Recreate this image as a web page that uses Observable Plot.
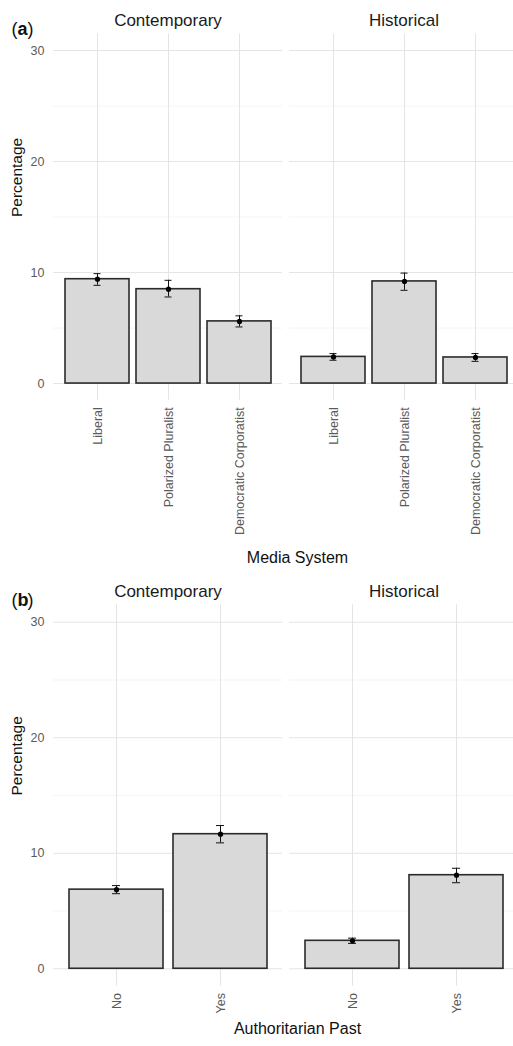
<!DOCTYPE html>
<html><head><meta charset="utf-8">
<script src="https://cdn.jsdelivr.net/npm/d3@7"></script>
<script src="https://cdn.jsdelivr.net/npm/@observablehq/plot@0.6"></script>
<style>
html,body{margin:0;padding:0;background:#fff;overflow:hidden}
#chart{width:513px}
#chart svg{display:block;max-width:none}
</style></head><body><div id="chart"></div>
<script>
// ---- data ----
const periods = ["Contemporary", "Historical"];
const yTicks = [0, 10, 20, 30];
const yMinorTicks = [5, 15, 25];

const mediaSystems = ["Liberal", "Polarized Pluralist", "Democratic Corporatist"];
const mediaContemporary = [9.4, 8.5, 5.6];
const mediaContemporaryLow = [8.85, 7.8, 5.1];
const mediaContemporaryHigh = [9.9, 9.3, 6.1];
const mediaHistorical = [2.4, 9.2, 2.35];
const mediaHistoricalLow = [2.1, 8.4, 2.0];
const mediaHistoricalHigh = [2.7, 9.95, 2.7];

const authPast = ["No", "Yes"];
const authContemporary = [6.85, 11.65];
const authContemporaryLow = [6.5, 10.9];
const authContemporaryHigh = [7.2, 12.4];
const authHistorical = [2.42, 8.1];
const authHistoricalLow = [2.2, 7.45];
const authHistoricalHigh = [2.65, 8.7];

function rows(cats, period, vals, lows, highs) {
  return cats.map((c, i) => ({cat: c, period, value: vals[i], low: lows[i], high: highs[i]}));
}
const mediaData = [
  ...rows(mediaSystems, "Contemporary", mediaContemporary, mediaContemporaryLow, mediaContemporaryHigh),
  ...rows(mediaSystems, "Historical", mediaHistorical, mediaHistoricalLow, mediaHistoricalHigh)
];
const authData = [
  ...rows(authPast, "Contemporary", authContemporary, authContemporaryLow, authContemporaryHigh),
  ...rows(authPast, "Historical", authHistorical, authHistoricalLow, authHistoricalHigh)
];

const font = "'Liberation Sans', Arial, Helvetica, sans-serif";

function panel({cats, data, height, marginTop, marginBottom, tag, xLabel, capInset}) {
  const labelDy = {a: 162.3, b: 47.4}[tag];
  return Plot.plot({
    width: 513, height, marginTop, marginBottom, marginLeft: 53, marginRight: -5,
    style: {fontFamily: font, background: "#fff", overflow: "hidden"},
    fx: {domain: periods, paddingInner: 0.0297, paddingOuter: 0, label: null},
    x: {domain: cats, paddingInner: 0.1, paddingOuter: 0.15, label: null},
    y: {domain: [-1.5, 31.5], label: null},
    marks: [
      Plot.gridY(yMinorTicks, {stroke: "#ececec", strokeOpacity: 1, strokeWidth: 0.6}),
      Plot.gridY(yTicks, {stroke: "#e4e4e4", strokeOpacity: 1, strokeWidth: 1}),
      Plot.gridX(cats, {stroke: "#e4e4e4", strokeOpacity: 1, strokeWidth: 1}),
      Plot.barY(data, {x: "cat", fx: "period", y: "value", fill: "#d9d9d9", stroke: "#2b2b2b", strokeWidth: 1.6}),
      Plot.ruleX(data, {x: "cat", fx: "period", y1: "low", y2: "high", stroke: "#111", strokeWidth: 1}),
      Plot.tickY(data, {x: "cat", fx: "period", y: "low", stroke: "#111", strokeWidth: 1, insetLeft: capInset, insetRight: capInset}),
      Plot.tickY(data, {x: "cat", fx: "period", y: "high", stroke: "#111", strokeWidth: 1, insetLeft: capInset, insetRight: capInset}),
      Plot.dot(data, {x: "cat", fx: "period", y: "value", r: 2.6, fill: "#000", stroke: null}),
      Plot.axisFx({anchor: "top", label: null, tickSize: 0, tickPadding: 8, fontSize: 17, fill: "#1a1a1a"}),
      Plot.axisX({anchor: "bottom", label: null, tickSize: 0, tickPadding: 7, tickRotate: -90, fontSize: 12.5, fill: "#5a5a5a"}),
      Plot.axisY({anchor: "left", ticks: yTicks, label: null, tickSize: 0, tickPadding: 9, fontSize: 12.5, fill: "#5a5a5a"}),
      Plot.text(["Percentage"], {facet: "super", frameAnchor: "left", rotate: -90, dx: -36, fontSize: 15.5, fill: "#111"}),
      Plot.text([xLabel], {facet: "super", frameAnchor: "bottom", dx: 11.5, dy: labelDy, fontSize: 16, fill: "#111"}),
      Plot.text(["("], {facet: "super", frameAnchor: "top-left", textAnchor: "start", dx: -42, dy: -12, fontSize: 18, fill: "#111"}),
      Plot.text([tag], {facet: "super", frameAnchor: "top-left", textAnchor: "start", dx: -36, dy: -12, fontSize: 18, fontWeight: "bold", fill: "#111"}),
      Plot.text([")"], {facet: "super", frameAnchor: "top-left", textAnchor: "start", dx: -26, dy: -12, fontSize: 18, fill: "#111"})
    ]
  });
}

const el = document.getElementById("chart");
el.append(panel({cats: mediaSystems, data: mediaData, height: 575, marginTop: 33.4, marginBottom: 175.3, tag: "a", xLabel: "Media System", capInset: 28.5}));
el.append(panel({cats: authPast, data: authData, height: 471, marginTop: 29.4, marginBottom: 60.4, tag: "b", xLabel: "Authoritarian Past", capInset: 43}));
</script></body></html>
